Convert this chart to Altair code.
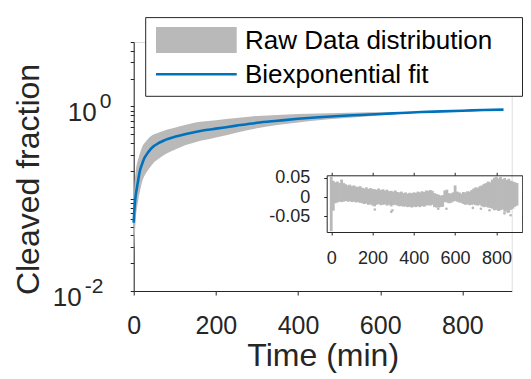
import altair as alt
import pandas as pd

# ---------------- data ----------------
fit_t = [0, 1, 2, 3, 5, 7, 10, 15, 20, 25, 30, 35, 40, 50, 60, 70, 80, 90, 100,
         125, 150, 175, 200, 250, 300, 350, 400, 450, 500, 550, 600, 650, 700,
         750, 800, 850, 900]
fit = [0.055, 0.068, 0.08, 0.09, 0.11, 0.125, 0.15, 0.2, 0.235, 0.27, 0.295,
       0.32, 0.34, 0.375, 0.40, 0.42, 0.44, 0.455, 0.47, 0.50, 0.53, 0.555,
       0.575, 0.62, 0.665, 0.70, 0.735, 0.765, 0.79, 0.81, 0.83, 0.85, 0.87,
       0.885, 0.90, 0.915, 0.925]

band_t = [0, 2, 5, 10, 15, 20, 30, 40, 50, 60, 80, 100, 125, 150, 200, 250, 300,
          350, 400, 450, 500, 550, 600, 650, 700, 750, 800, 850, 900]
band_lo = [0.022, 0.035, 0.06, 0.09, 0.12, 0.15, 0.19, 0.22, 0.25, 0.27, 0.31,
           0.34, 0.38, 0.41, 0.46, 0.52, 0.58, 0.63, 0.67, 0.71, 0.74, 0.77,
           0.80, 0.835, 0.855, 0.87, 0.89, 0.905, 0.915]
band_hi = [0.09, 0.14, 0.2, 0.26, 0.31, 0.36, 0.42, 0.47, 0.50, 0.52, 0.56,
           0.59, 0.63, 0.67, 0.71, 0.75, 0.79, 0.81, 0.83, 0.84, 0.85, 0.86,
           0.865, 0.87, 0.885, 0.90, 0.91, 0.925, 0.935]

res_t = [0, 10, 20, 30, 40, 50, 60, 70, 80, 90, 100, 110, 120, 130, 140, 150,
         160, 170, 180, 190, 200, 210, 220, 230, 240, 250, 260, 270, 280, 290,
         300, 310, 320, 330, 340, 350, 360, 370, 380, 390, 400, 410, 420, 430,
         440, 450, 460, 470, 480, 490, 500, 510, 520, 530, 540, 550, 560, 570,
         580, 590, 600, 610, 620, 630, 640, 650, 660, 670, 680, 690, 700, 710,
         720, 730, 740, 750, 760, 770, 780, 790, 800, 810, 820, 830, 840, 850,
         860, 870, 880, 890, 900]
res_hi = [0.052, 0.042, 0.038, 0.040, 0.036, 0.045, 0.036, 0.033, 0.030, 0.032,
          0.028, 0.030, 0.027, 0.026, 0.028, 0.024, 0.022, 0.025, 0.021, 0.023,
          0.021, 0.020, 0.019, 0.022, 0.018, 0.020, 0.017, 0.019, 0.015, 0.016,
          0.014, 0.017, 0.013, 0.012, 0.014, 0.010, 0.012, 0.009, 0.011, 0.010,
          0.012, 0.011, 0.014, 0.012, 0.015, 0.013, 0.017, 0.016, 0.018, 0.016,
          0.010, 0.008, 0.006, 0.004, 0.005, 0.017, 0.019, 0.010, 0.009, 0.012,
          0.030, 0.014, 0.012, 0.009, 0.013, 0.012, 0.015, 0.014, 0.018, 0.022,
          0.025, 0.024, 0.028, 0.030, 0.034, 0.036, 0.040, 0.038, 0.045, 0.050,
          0.053, 0.048, 0.052, 0.046, 0.049, 0.044, 0.047, 0.042, 0.040, 0.038,
          0.036]
res_lo = [-0.088, -0.035, -0.016, -0.014, -0.012, -0.013, -0.012, -0.010, -0.012,
          -0.011, -0.013, -0.012, -0.014, -0.013, -0.015, -0.016, -0.018, -0.017,
          -0.020, -0.019, -0.022, -0.024, -0.020, -0.018, -0.021, -0.020, -0.019,
          -0.022, -0.020, -0.024, -0.021, -0.020, -0.022, -0.024, -0.023, -0.025,
          -0.024, -0.026, -0.025, -0.027, -0.025, -0.026, -0.024, -0.026, -0.023,
          -0.025, -0.022, -0.021, -0.022, -0.020, -0.026, -0.027, -0.027, -0.026,
          -0.025, -0.013, -0.014, -0.016, -0.015, -0.012, -0.010, -0.012, -0.014,
          -0.015, -0.018, -0.020, -0.019, -0.021, -0.020, -0.019, -0.021, -0.022,
          -0.020, -0.024, -0.026, -0.025, -0.027, -0.028, -0.030, -0.034, -0.033,
          -0.036, -0.034, -0.032, -0.038, -0.035, -0.040, -0.033, -0.030, -0.025,
          -0.022]
out_t = [211, 291, 296, 518, 558, 686, 725, 767, 839, 854, 869]
out_r = [-0.032, -0.038, -0.034, -0.030, -0.030, -0.028, -0.030, -0.034, -0.042,
         -0.038, -0.047]

main_xticks = [0, 200, 400, 600, 800]
inset_xticks = [0, 200, 400, 600, 800]
inset_yticks = [-0.05, 0, 0.05]
ylab_vals = [0.01, 1]
ylab_exps = ["-2", "0"]
legend_labels = ["Raw Data distribution", "Biexponential fit"]

# ---------------- style ----------------
GRAY = "#b9b9b9"
BLUE = "#0072BD"
INK = "#262626"
FONT = "Liberation Sans"
W, H = 378, 249

band = pd.DataFrame({"t": band_t, "lo": band_lo, "hi": band_hi})
fitdf = pd.DataFrame({"t": fit_t, "fit": fit})
res = pd.DataFrame({"t": res_t, "lo": res_lo, "hi": res_hi})
outl = pd.DataFrame({"t": out_t, "r": out_r})

minor = [m * 10.0 ** e for e in (-2, -1) for m in range(1, 10)] + [1, 2, 3, 4, 5]

xs = alt.Scale(domain=[0, 920], nice=False)
ys = alt.Scale(type="log", domain=[0.01, 5], nice=False)

axis_common = dict(grid=False, domainColor=INK, tickColor=INK, labelColor=INK,
                   titleColor=INK, labelFont=FONT, titleFont=FONT,
                   titleFontWeight="normal", domainWidth=1, tickWidth=1)

x_main = alt.X("t:Q", scale=xs, axis=alt.Axis(
    values=main_xticks, title="Time (min)", titleFontSize=32, labelFontSize=25,
    tickSize=4, labelPadding=18, titlePadding=2, labelFlush=False, **axis_common))
y_main = alt.Y("lo:Q", scale=ys, axis=alt.Axis(
    values=minor, labels=False, title="Cleaved fraction", titleFontSize=32,
    tickSize=3.5, titlePadding=84, titleY=137, **axis_common))

area = alt.Chart(band).mark_area(color=GRAY, opacity=1, interpolate="monotone").encode(
    x=x_main, y=y_main, y2="hi:Q")
line = alt.Chart(fitdf).mark_line(color=BLUE, strokeWidth=2.6, interpolate="monotone").encode(
    x=alt.X("t:Q", scale=xs), y=alt.Y("fit:Q", scale=ys))

# y tick labels 10^n with superscripts
lab_layers = []
for v, e in zip(ylab_vals, ylab_exps):
    d = pd.DataFrame({"v": [v], "base": ["10"], "exp": [e]})
    bx = -37 - 15 * (len(e) - 1)
    lab_layers.append(alt.Chart(d).mark_text(
        align="right", baseline="middle", fontSize=26, font=FONT, color=INK, dy=7
    ).encode(x=alt.value(bx), y=alt.Y("v:Q", scale=ys), text="base:N"))
    lab_layers.append(alt.Chart(d).mark_text(
        align="left", baseline="middle", fontSize=21, font=FONT, color=INK, dy=-4
    ).encode(x=alt.value(bx + 3), y=alt.Y("v:Q", scale=ys), text="exp:N"))

# legend
ld = pd.DataFrame({"label": legend_labels})
leg_box = alt.Chart(ld.head(1)).mark_rect(fill="white", stroke=INK, strokeWidth=1).encode(
    x=alt.value(12), x2=alt.value(388.8), y=alt.value(-24.4), y2=alt.value(54.3))
leg_sw = alt.Chart(ld.head(1)).mark_rect(fill=GRAY).encode(
    x=alt.value(22.3), x2=alt.value(103), y=alt.value(-15), y2=alt.value(11))
leg_ln = alt.Chart(ld.head(1)).mark_rule(color=BLUE, strokeWidth=2.6).encode(
    x=alt.value(22.3), x2=alt.value(103), y=alt.value(32.3))
leg_t1 = alt.Chart(ld.iloc[[0]]).mark_text(
    align="left", baseline="middle", fontSize=26, font=FONT, color="black").encode(
    x=alt.value(111.3), y=alt.value(-1.5), text="label:N")
leg_t2 = alt.Chart(ld.iloc[[1]]).mark_text(
    align="left", baseline="middle", fontSize=26, font=FONT, color="black").encode(
    x=alt.value(111.3), y=alt.value(32.5), text="label:N")

main = alt.layer(area, line, *lab_layers, leg_box, leg_sw, leg_ln, leg_t1, leg_t2)

# inset
IX = [193, 388.5]
IY = [190, 133.3]
ixs = alt.Scale(domain=[-22, 925], range=IX, nice=False, zero=False)
iys = alt.Scale(domain=[-0.09, 0.056], range=IY, nice=False, zero=False)
inset_axis = dict(grid=False, domainColor=INK, tickColor=INK, labelColor=INK,
                  labelFont=FONT, domainWidth=1, tickWidth=1, tickSize=3, title=None)

rules = alt.Chart(res).mark_rule(color=GRAY, strokeWidth=2.8).encode(
    x=alt.X("t:Q", scale=ixs, axis=alt.Axis(
        orient="bottom", offset=-(H - IY[0]), values=inset_xticks,
        labelFontSize=18, labelPadding=14, labelFlush=False, **inset_axis)),
    y=alt.Y("lo:Q", scale=iys, axis=alt.Axis(
        orient="left", offset=-IX[0], values=inset_yticks, labelFontSize=18,
        labelPadding=14,
        labelExpr="datum.value < 0 ? '-' + format(-datum.value, '.2~f') : format(datum.value, '.2~f')",
        **inset_axis)),
    y2="hi:Q")
pts = alt.Chart(outl).mark_circle(color=GRAY, size=7, opacity=1).encode(
    x=alt.X("t:Q", scale=ixs), y=alt.Y("r:Q", scale=iys))
inset = alt.layer(rules, pts)

frame = alt.Chart(res).mark_point(opacity=0).encode(
    x=alt.X("t:Q", scale=ixs, axis=alt.Axis(
        orient="top", offset=-IY[1], values=inset_xticks, labels=False, **inset_axis)),
    y=alt.Y("hi:Q", scale=iys, axis=alt.Axis(
        orient="right", offset=IX[1] - W, values=inset_yticks, labels=False, **inset_axis)))

chart = alt.layer(main, inset, frame).resolve_scale(
    x="independent", y="independent"
).properties(
    width=W, height=H,
    autosize=alt.AutoSizeParams(type="none"),
    padding={"left": 125.7, "top": 34, "right": 11.3, "bottom": 87},
).configure_view(stroke=None).configure(background="white")

chart.save("out.html", embed_options={"renderer": "svg", "actions": False})
